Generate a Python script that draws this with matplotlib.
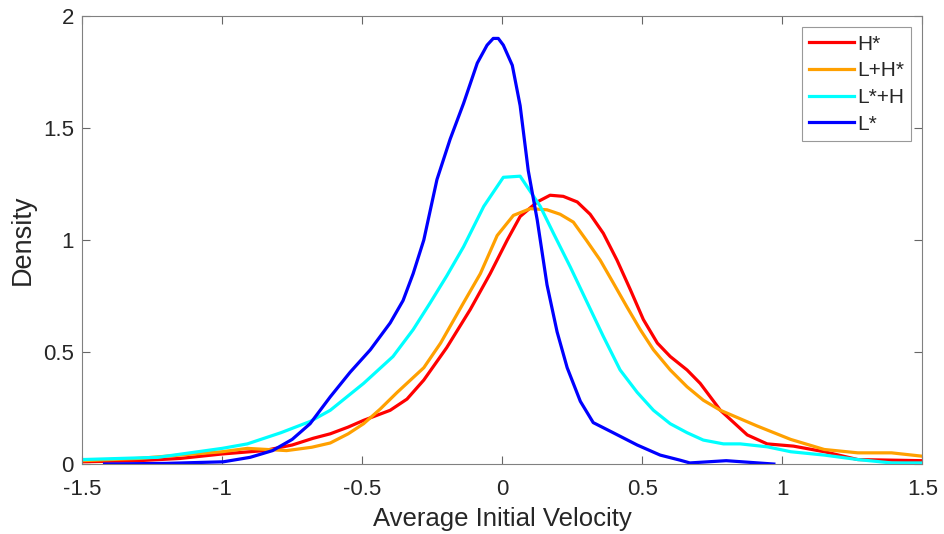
import matplotlib
matplotlib.use("Agg")
from matplotlib import pyplot as plt

plt.rcParams["font.family"] = ["Liberation Sans", "DejaVu Sans"]

# H*
h_x = [-1.5, -1.3, -1.15, -1.0, -0.85, -0.75, -0.675, -0.614, -0.55, -0.495, -0.4, -0.34,
       -0.28, -0.198, -0.114, -0.043, 0.018, 0.064, 0.125, 0.171, 0.218, 0.268, 0.314,
       0.361, 0.41, 0.457, 0.504, 0.554, 0.6, 0.66, 0.707, 0.779, 0.875, 0.946, 1.04,
       1.15, 1.27, 1.5]
h_y = [0.01, 0.015, 0.025, 0.045, 0.06, 0.085, 0.115, 0.135, 0.165, 0.195, 0.24, 0.29,
       0.375, 0.52, 0.69, 0.85, 1.0, 1.105, 1.17, 1.2, 1.195, 1.17, 1.115,
       1.03, 0.91, 0.78, 0.645, 0.54, 0.48, 0.42, 0.36, 0.24, 0.13, 0.09, 0.08,
       0.055, 0.02, 0.015]

# L+H*
lh_x = [-1.5, -1.3, -1.15, -1.0, -0.91, -0.77, -0.68, -0.614, -0.55, -0.495, -0.436, -0.375,
        -0.28, -0.22, -0.138, -0.078, -0.018, 0.04, 0.1, 0.16, 0.207, 0.254, 0.3, 0.35,
        0.396, 0.446, 0.493, 0.54, 0.6, 0.66, 0.718, 0.779, 0.91, 1.03, 1.15, 1.27, 1.39, 1.5]
lh_y = [0.015, 0.025, 0.04, 0.055, 0.07, 0.06, 0.075, 0.094, 0.135, 0.18, 0.245, 0.32,
        0.43, 0.54, 0.72, 0.85, 1.02, 1.11, 1.14, 1.135, 1.115, 1.08, 1.0, 0.91,
        0.81, 0.7, 0.6, 0.51, 0.42, 0.345, 0.285, 0.24, 0.17, 0.11, 0.065, 0.05, 0.05, 0.035]

# L*+H
lsh_x = [-1.5, -1.23, -1.0, -0.91, -0.79, -0.686, -0.614, -0.495, -0.39, -0.318, -0.257,
         -0.198, -0.138, -0.066, 0.004, 0.064, 0.136, 0.183, 0.243, 0.3, 0.361, 0.421,
         0.482, 0.54, 0.6, 0.66, 0.718, 0.79, 0.85, 0.946, 1.03, 1.15, 1.27, 1.39, 1.5]
lsh_y = [0.02, 0.03, 0.07, 0.09, 0.14, 0.19, 0.24, 0.36, 0.48, 0.6, 0.72,
         0.84, 0.97, 1.15, 1.28, 1.285, 1.15, 1.03, 0.88, 0.73, 0.57, 0.42,
         0.32, 0.24, 0.18, 0.14, 0.107, 0.09, 0.09, 0.077, 0.055, 0.04, 0.02, 0.005, 0.005]

# L*
ls_x = [-1.42, -1.2, -0.996, -0.9, -0.82, -0.75, -0.686, -0.614, -0.543, -0.471, -0.4,
        -0.354, -0.318, -0.28, -0.233, -0.186, -0.138, -0.089, -0.054, -0.032, -0.014,
        0.004, 0.036, 0.064, 0.093, 0.125, 0.16, 0.196, 0.232, 0.279, 0.325, 0.396,
        0.482, 0.564, 0.636, 0.67, 0.8, 0.97]
ls_y = [0.0, 0.003, 0.01, 0.03, 0.06, 0.11, 0.18, 0.3, 0.41, 0.51, 0.63,
        0.73, 0.85, 1.0, 1.27, 1.45, 1.61, 1.79, 1.87, 1.9, 1.9,
        1.87, 1.78, 1.6, 1.31, 1.09, 0.8, 0.59, 0.43, 0.28, 0.185, 0.14,
        0.085, 0.04, 0.017, 0.005, 0.015, 0.0]

fig = plt.figure(figsize=(9.44, 5.34), dpi=100)
ax = fig.add_axes([0.087, 0.131, 0.89, 0.839])

lw = 2.3
ax.plot(h_x, h_y, color="#ff0000", lw=lw, label="H*")
ax.plot(lh_x, lh_y, color="#ffa000", lw=lw, label="L+H*")
ax.plot(lsh_x, lsh_y, color="#00ffff", lw=lw, label="L*+H")
ax.plot(ls_x, ls_y, color="#0000ff", lw=lw, label="L*")

ax.set_xlim(-1.5, 1.5)
ax.set_ylim(0, 2)
ax.set_xticks([-1.5, -1, -0.5, 0, 0.5, 1, 1.5])
ax.set_xticklabels(["-1.5", "-1", "-0.5", "0", "0.5", "1", "1.5"])
ax.set_yticks([0, 0.5, 1, 1.5, 2])
ax.set_yticklabels(["0", "0.5", "1", "1.5", "2"])
ax.tick_params(direction="in", top=True, right=True, length=6, width=0.8,
               color="#666666", labelsize=16, labelcolor="#262626")
ax.tick_params(axis="x", pad=11)
ax.tick_params(axis="y", pad=6)
for s in ax.spines.values():
    s.set_color("#808080")
    s.set_linewidth(0.8)

ax.set_xlabel("Average Initial Velocity", fontsize=18.5, labelpad=5, color="#262626")
ax.set_ylabel("Density", fontsize=19.5, labelpad=5, color="#262626")

leg = ax.legend(loc="upper right", fontsize=15, handlelength=2.15, handletextpad=0.15,
                borderpad=0.35, labelspacing=0.37, fancybox=False,
                borderaxespad=0, bbox_to_anchor=(0.987, 0.975))
leg.get_frame().set_edgecolor("#808080")
leg.get_frame().set_linewidth(0.8)
for t in leg.get_texts():
    t.set_color("#262626")

plt.savefig("out.png", dpi=100)
